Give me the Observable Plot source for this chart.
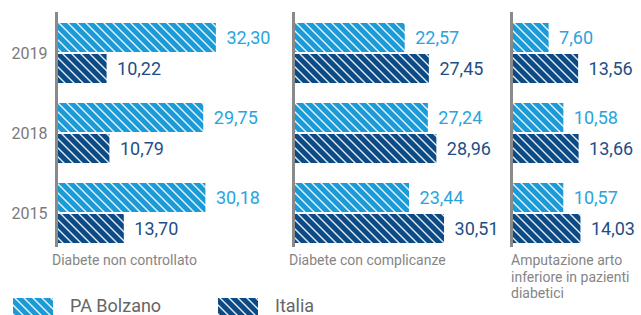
<!DOCTYPE html>
<html><head><meta charset="utf-8">
<script src="https://cdn.jsdelivr.net/npm/d3@7"></script>
<script src="https://cdn.jsdelivr.net/npm/@observablehq/plot@0.6"></script>
<style>
body{margin:0;background:#fff;font-family:Roboto,sans-serif;}
#chart{position:relative;width:641px;height:315px;overflow:hidden;}
.panel{position:absolute;top:0;}
.panel svg{overflow:visible;}
.ptitle{position:absolute;top:252px;font-size:14px;line-height:16.5px;color:#858585;white-space:pre-line;}
.legend{position:absolute;top:295px;display:flex;align-items:center;font-size:18px;color:#666;}
.legend svg{margin-right:17px;}
</style></head><body>
<svg width="0" height="0" style="position:absolute">
<defs>
<pattern id="hatchPA" patternUnits="userSpaceOnUse" width="9" height="9">
<rect width="9" height="9" fill="#1a9bd7"/>
<path d="M-1,-1L10,10M-1,8L1,10M8,-1L10,1" stroke="#fff" stroke-width="1.4" stroke-opacity="0.9"/>
</pattern>
<pattern id="hatchIT" patternUnits="userSpaceOnUse" width="9" height="9">
<rect width="9" height="9" fill="#0b4a85"/>
<path d="M-1,-1L10,10M-1,8L1,10M8,-1L10,1" stroke="#fff" stroke-width="1.4" stroke-opacity="0.9"/>
</pattern>
</defs>
</svg>
<div id="chart"></div>
<script>
const years = ["2019", "2018", "2015"];
const seriesNames = ["PA Bolzano", "Italia"];
const panelTitles = [
  "Diabete non controllato",
  "Diabete con complicanze",
  "Amputazione arto\ninferiore in pazienti\ndiabetici"
];
const bolzanoNonControllato = [32.30, 29.75, 30.18];
const italiaNonControllato  = [10.22, 10.79, 13.70];
const bolzanoComplicanze    = [22.57, 27.24, 23.44];
const italiaComplicanze     = [27.45, 28.96, 30.51];
const bolzanoAmputazione    = [7.60, 10.58, 10.57];
const italiaAmputazione     = [13.56, 13.66, 14.03];

const bolzanoAll = [bolzanoNonControllato, bolzanoComplicanze, bolzanoAmputazione];
const italiaAll = [italiaNonControllato, italiaComplicanze, italiaAmputazione];

const layout = [
  {left: 0, width: 293, marginLeft: 56, titleLeft: 52},
  {left: 291, width: 220, marginLeft: 2, titleLeft: 289},
  {left: 509, width: 132, marginLeft: 2, titleLeft: 511}
];
const pxPerUnit = 4.95;
const fmt = v => v.toFixed(2).replace(".", ",");

const chart = document.getElementById("chart");

layout.forEach((L, i) => {
  const rows = years.map((y, j) => ({year: y, pa: bolzanoAll[i][j], it: italiaAll[i][j]}));
  const p = Plot.plot({
    width: L.width,
    height: 250,
    marginTop: 12,
    marginBottom: 3,
    marginLeft: L.marginLeft,
    marginRight: 0,
    x: {domain: [0, (L.width - L.marginLeft) / pxPerUnit], axis: null},
    y: {domain: years, range: [23, 243], paddingInner: 0.25, paddingOuter: 0,
        axis: i === 0 ? "left" : null, tickSize: 0, tickPadding: 9, label: null},
    style: {fontFamily: "Roboto, sans-serif", fontSize: "16px", color: "#7a7a7a", background: "transparent", overflow: "visible"},
    marks: [
      Plot.barX(rows, {y: "year", x: "pa", fill: "url(#hatchPA)", insetBottom: 31}),
      Plot.barX(rows, {y: "year", x: "it", fill: "url(#hatchIT)", insetTop: 31}),
      Plot.text(rows, {y: "year", x: "pa", text: d => fmt(d.pa), dx: 10, dy: -15.5,
        textAnchor: "start", fill: "#2aa4dd", fontSize: 18}),
      Plot.text(rows, {y: "year", x: "it", text: d => fmt(d.it), dx: 10, dy: 15.5,
        textAnchor: "start", fill: "#1f4e86", fontSize: 18}),
      Plot.ruleX([0], {stroke: "#8a8a8a", strokeWidth: 3})
    ]
  });
  const div = document.createElement("div");
  div.className = "panel";
  div.style.left = L.left + "px";
  div.appendChild(p);
  chart.appendChild(div);
  const t = document.createElement("div");
  t.className = "ptitle";
  t.style.left = L.titleLeft + "px";
  t.textContent = panelTitles[i];
  chart.appendChild(t);
});

const legendFills = ["url(#hatchPA)", "url(#hatchIT)"];
const legendLeft = [13, 218];
seriesNames.forEach((name, i) => {
  const d = document.createElement("div");
  d.className = "legend";
  d.style.left = legendLeft[i] + "px";
  d.innerHTML = `<svg width="40" height="20"><rect x="0" y="2" width="40" height="18" fill="${legendFills[i]}"/></svg><span>${name}</span>`;
  chart.appendChild(d);
});
</script>
</body></html>
